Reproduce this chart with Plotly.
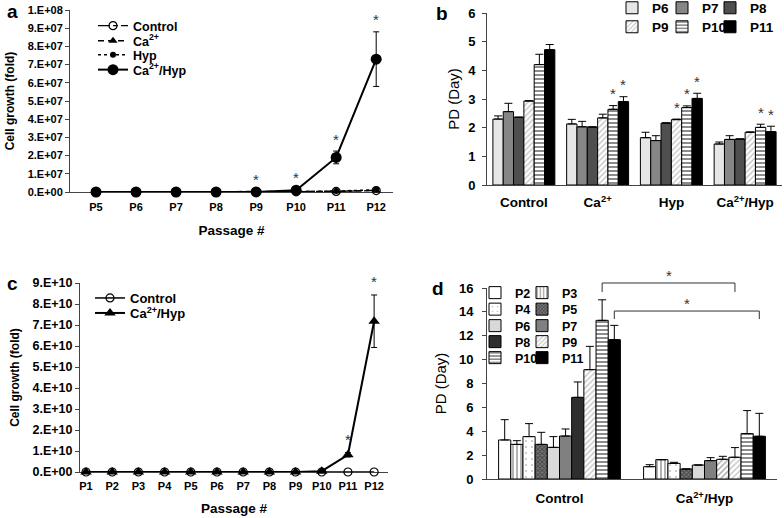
import plotly.graph_objects as go

W, H = 784, 518
FONT = "Liberation Sans, Arial, sans-serif"
AX = "#444444"

# ---------------- Panel a data ----------------
a_passages = ["P5", "P6", "P7", "P8", "P9", "P10", "P11", "P12"]
a_control = [0, 0, 0, 0, 0, 1.0e5, 3.0e5, 8.0e5]
a_ca = [0, 0, 0, 0, 0, 1.0e5, 3.5e5, 9.0e5]
a_hyp = [0, 0, 0, 0, 0, 1.5e5, 5.0e5, 1.2e6]
a_cahyp = [0, 0, 0, 0, 2.0e4, 1.0e6, 1.9e7, 7.3e7]
a_cahyp_err = [0, 0, 0, 0, 0, 5.0e5, 3.5e6, 1.5e7]
a_sig = ["P9", "P10", "P11", "P12"]
a_ytickvals = [0, 1e7, 2e7, 3e7, 4e7, 5e7, 6e7, 7e7, 8e7, 9e7, 1e8]
a_yticktext = ["0.E+00", "1.E+07", "2.E+07", "3.E+07", "4.E+07", "5.E+07",
               "6.E+07", "7.E+07", "8.E+07", "9.E+07", "1.E+08"]

# ---------------- Panel b data ----------------
b_groups = ["Control", "Ca<sup>2+</sup>", "Hyp", "Ca<sup>2+</sup>/Hyp"]
b_passages = ["P6", "P7", "P8", "P9", "P10", "P11"]
b_P6 = [2.30, 2.13, 1.65, 1.43]
b_P7 = [2.56, 2.03, 1.55, 1.59]
b_P8 = [2.36, 2.02, 2.16, 1.60]
b_P9 = [2.93, 2.34, 2.28, 1.84]
b_P10 = [4.20, 2.64, 2.70, 2.01]
b_P11 = [4.72, 2.91, 3.02, 1.86]
b_P6_err = [0.11, 0.16, 0.19, 0.07]
b_P7_err = [0.29, 0.19, 0.17, 0.13]
b_P8_err = [0.01, 0.01, 0.01, 0.01]
b_P9_err = [0.01, 0.13, 0.02, 0.01]
b_P10_err = [0.36, 0.13, 0.06, 0.11]
b_P11_err = [0.18, 0.17, 0.18, 0.19]
b_sig_P9 = [0, 0, 1, 0]
b_sig_P10 = [0, 1, 1, 1]
b_sig_P11 = [0, 1, 1, 1]

# ---------------- Panel c data ----------------
c_passages = ["P1", "P2", "P3", "P4", "P5", "P6", "P7", "P8", "P9", "P10", "P11", "P12"]
c_control = [0, 0, 0, 0, 0, 0, 0, 0, 0, 0, 0, 0]
c_cahyp = [0, 0, 0, 0, 0, 0, 0, 0, 1.0e7, 4.0e8, 8.2e9, 7.18e10]
c_cahyp_err = [0, 0, 0, 0, 0, 0, 0, 0, 0, 1.0e8, 1.0e9, 1.25e10]
c_sig = ["P11", "P12"]
c_ytickvals = [0, 1e10, 2e10, 3e10, 4e10, 5e10, 6e10, 7e10, 8e10, 9e10]
c_yticktext = ["0.E+00", "1.E+10", "2.E+10", "3.E+10", "4.E+10",
               "5.E+10", "6.E+10", "7.E+10", "8.E+10", "9.E+10"]

# ---------------- Panel d data ----------------
d_groups = ["Control", "Ca<sup>2+</sup>/Hyp"]
d_passages = ["P2", "P3", "P4", "P5", "P6", "P7", "P8", "P9", "P10", "P11"]
d_P2 = [3.27, 1.03]
d_P3 = [2.90, 1.62]
d_P4 = [3.55, 1.31]
d_P5 = [2.90, 0.84]
d_P6 = [2.65, 1.17]
d_P7 = [3.60, 1.54]
d_P8 = [6.84, 1.65]
d_P9 = [9.16, 1.82]
d_P10 = [13.29, 3.80]
d_P11 = [11.67, 3.58]
d_P2_err = [1.70, 0.17]
d_P3_err = [0.31, 0.00]
d_P4_err = [1.09, 0.09]
d_P5_err = [1.01, 0.00]
d_P6_err = [0.90, 0.00]
d_P7_err = [0.59, 0.25]
d_P8_err = [1.29, 0.25]
d_P9_err = [1.95, 0.81]
d_P10_err = [1.72, 1.93]
d_P11_err = [1.20, 1.92]
# significance brackets: (left group, left passage, right group, right passage)
d_brackets = [(0, "P10", 1, "P9"), (0, "P11", 1, "P11")]

b_vals = [b_P6, b_P7, b_P8, b_P9, b_P10, b_P11]
b_errs = [b_P6_err, b_P7_err, b_P8_err, b_P9_err, b_P10_err, b_P11_err]
b_sigs = {"P9": b_sig_P9, "P10": b_sig_P10, "P11": b_sig_P11}
d_vals = [d_P2, d_P3, d_P4, d_P5, d_P6, d_P7, d_P8, d_P9, d_P10, d_P11]
d_errs = [d_P2_err, d_P3_err, d_P4_err, d_P5_err, d_P6_err, d_P7_err,
          d_P8_err, d_P9_err, d_P10_err, d_P11_err]

# ---------------- styles ----------------
BARGAP = 0.16
b_styles = [
    dict(color="#e6e6e6"),
    dict(color="#868686"),
    dict(color="#4f4f4f"),
    dict(color="white", pattern=dict(shape="/", fgcolor="#8a8a8a", bgcolor="white", size=4, solidity=0.35)),
    dict(color="white", pattern=dict(shape="-", fgcolor="black", bgcolor="white", size=4, solidity=0.45)),
    dict(color="black"),
]
d_styles = [
    dict(color="white"),
    dict(color="white", pattern=dict(shape="|", fgcolor="black", bgcolor="white", size=4, solidity=0.3)),
    dict(color="white", pattern=dict(shape=".", fgcolor="#777", bgcolor="white", size=6, solidity=0.08)),
    dict(color="#555", pattern=dict(shape="x", fgcolor="#111", bgcolor="#777", size=3, solidity=0.5)),
    dict(color="#d9d9d9"),
    dict(color="#808080"),
    dict(color=["#2e2e2e", "white"], pattern=dict(shape=["", "/"], fgcolor="#6a6a6a", bgcolor="white", size=4, solidity=0.35)),
    dict(color="white", pattern=dict(shape="/", fgcolor="#8a8a8a", bgcolor="white", size=4, solidity=0.35)),
    dict(color="white", pattern=dict(shape="-", fgcolor="black", bgcolor="white", size=4, solidity=0.45)),
    dict(color="black"),
]

legends = {}
_leg_count = [0]


def new_legend(text_x_px, y_px, size):
    _leg_count[0] += 1
    key = "legend" if _leg_count[0] == 1 else "legend%d" % _leg_count[0]
    legends[key] = dict(
        x=(text_x_px - 40) / W, xanchor="left", y=1 - y_px / H, yanchor="middle",
        bgcolor="rgba(0,0,0,0)", borderwidth=0, orientation="v",
        font=dict(family=FONT, size=size, color="black", weight="bold"),
        itemclick=False, itemdoubleclick=False, visible=True,
    )
    return key


fig = go.Figure()

# ---------------- Panel a traces ----------------
a_series = [
    ("Control", a_control, None, dict(symbol="circle-open", size=8, color="black", line=dict(width=1.2)),
     dict(color="black", width=1.3, dash="12px,3px,5px,3px"), 26),
    ("Ca<sup>2+</sup>", a_ca, None, dict(symbol="triangle-up", size=8, color="black"),
     dict(color="black", width=1.5, dash="6px,4px"), 41),
    ("Hyp", a_hyp, None, dict(symbol="circle", size=6, color="black"),
     dict(color="black", width=1.5, dash="dot"), 55),
    ("Ca<sup>2+</sup>/Hyp", a_cahyp, a_cahyp_err, dict(symbol="circle", size=11, color="black"),
     dict(color="black", width=2), 70),
]
for name, ys, err, mk, ln, ly in a_series:
    fig.add_trace(go.Scatter(
        x=a_passages, y=ys, name=name, mode="lines+markers", marker=mk, line=ln,
        error_y=dict(type="data", array=err, color="black", thickness=1, width=3) if err else None,
        cliponaxis=False, xaxis="x", yaxis="y", showlegend=True,
        legend=new_legend(133, ly, 12.5)))

# ---------------- Panel b traces ----------------
for k, p in enumerate(b_passages):
    st = b_styles[k]
    fig.add_trace(go.Bar(
        x=b_groups, y=b_vals[k], name=p, xaxis="x2", yaxis="y2", showlegend=True,
        marker=dict(line=dict(color="black", width=1), **st),
        error_y=dict(type="data", array=b_errs[k], arrayminus=[0] * len(b_groups),
                     symmetric=False, color="black", thickness=1, width=4),
        legend=new_legend([652, 702, 750][k % 3], [8, 27][k // 3], 13.5)))

# ---------------- Panel c traces ----------------
fig.add_trace(go.Scatter(
    x=c_passages, y=c_control, name="Control", mode="lines+markers",
    marker=dict(symbol="circle-open", size=8, color="black", line=dict(width=1.2)),
    line=dict(color="black", width=1.5), cliponaxis=False, xaxis="x3", yaxis="y3",
    showlegend=True, legend=new_legend(130, 298, 13)))
fig.add_trace(go.Scatter(
    x=c_passages, y=c_cahyp, name="Ca<sup>2+</sup>/Hyp", mode="lines+markers",
    marker=dict(symbol="triangle-up", size=10, color="black"),
    line=dict(color="black", width=2),
    error_y=dict(type="data", array=c_cahyp_err, color="black", thickness=1, width=3),
    cliponaxis=False, xaxis="x3", yaxis="y3", showlegend=True,
    legend=new_legend(130, 313, 13)))

# ---------------- Panel d traces ----------------
d_leg_x = [515, 562]
d_leg_y = [293, 309.5, 326, 342, 358]
for k, p in enumerate(d_passages):
    st = d_styles[k]
    fig.add_trace(go.Bar(
        x=d_groups, y=d_vals[k], name=p, xaxis="x4", yaxis="y4", showlegend=True,
        marker=dict(line=dict(color="black", width=1), **st),
        error_y=dict(type="data", array=d_errs[k], arrayminus=[0] * len(d_groups),
                     symmetric=False, color="black", thickness=1, width=4),
        legend=new_legend(d_leg_x[k % 2], d_leg_y[k // 2], 12.5)))

# ---------------- annotations ----------------
ann = []
shapes = []
STAR = dict(family=FONT, size=15, color="#333")


def star(xref, yref, x, y, shift):
    return dict(xref=xref, yref=yref, x=x, y=y, text="*", showarrow=False,
                yshift=shift, xanchor="center", yanchor="middle", font=STAR)


for p in a_sig:
    i = a_passages.index(p)
    ann.append(star("x", "y", i, a_cahyp[i] + a_cahyp_err[i], 12))
for p in c_sig:
    i = c_passages.index(p)
    ann.append(star("x3", "y3", i, c_cahyp[i] + c_cahyp_err[i], 13))


def bar_offset(k, n):
    w = (1 - BARGAP) / n
    return -(1 - BARGAP) / 2 + (k + 0.5) * w


for p, sig in b_sigs.items():
    k = b_passages.index(p)
    for g, s in enumerate(sig):
        if s:
            ann.append(star("x2", "y2", g + bar_offset(k, 6),
                            b_vals[k][g] + b_errs[k][g], 12))

# d brackets (y in data units converted to the axis domain so they can sit above the top)
D_MAX = 16
bracket_levels = [(16.42, 15.66, 17.05), (14.07, 13.40, 14.72)]
for (g1, p1, g2, p2), (ytop, yleg, ystar) in zip(d_brackets, bracket_levels):
    x1 = (g1 + bar_offset(d_passages.index(p1), 10) + 0.5) / 2
    x2 = (g2 + bar_offset(d_passages.index(p2), 10) + 0.5) / 2
    for xa, ya, xb, yb in [(x1, yleg, x1, ytop), (x1, ytop, x2, ytop), (x2, ytop, x2, yleg)]:
        shapes.append(dict(type="line", xref="x4 domain", yref="y4 domain",
                           x0=xa, y0=ya / D_MAX, x1=xb, y1=yb / D_MAX,
                           line=dict(color="#333", width=1)))
    ann.append(dict(xref="x4 domain", yref="y4 domain", x=(x1 + x2) / 2, y=ystar / D_MAX,
                    text="*", showarrow=False, xanchor="center", yanchor="middle", font=STAR))

for letter, px, py in [("a", 12, 12), ("b", 442, 14), ("c", 12, 283), ("d", 438, 288)]:
    ann.append(dict(xref="paper", yref="paper", x=px / W, y=1 - py / H, text=letter,
                    showarrow=False, xanchor="center", yanchor="middle",
                    font=dict(family=FONT, size=19, color="black", weight="bold")))

# ---------------- axes ----------------
BOLD11 = dict(family=FONT, size=11, color="black", weight="bold")


def xax(dom, rng, tsize, tls, title=None, standoff=10):
    d = dict(domain=[dom[0] / W, dom[1] / W], range=rng, type="category",
             showline=True, linecolor=AX, linewidth=1, ticks="", showgrid=False,
             zeroline=False, tickfont=dict(family=FONT, size=tsize, color="black", weight="bold"),
             fixedrange=True, ticklabelstandoff=tls)
    if title:
        d["title"] = dict(text=title, standoff=standoff,
                          font=dict(family=FONT, size=13.5, color="black", weight="bold"))
    return d


def yax(dom, rng, tfont, title, tfont_title, standoff, tickvals=None, ticktext=None, dtick=None, tls=0):
    d = dict(domain=[1 - dom[1] / H, 1 - dom[0] / H], range=rng, showline=True, linecolor=AX,
             linewidth=1, ticks="outside", ticklen=4, tickcolor=AX, showgrid=False,
             zeroline=False, tickfont=tfont, fixedrange=True, ticklabelstandoff=tls,
             title=dict(text=title, standoff=standoff, font=tfont_title))
    if tickvals is not None:
        d.update(tickmode="array", tickvals=tickvals, ticktext=ticktext)
    if dtick is not None:
        d.update(dtick=dtick, tick0=0)
    return d


layout = dict(
    width=W, height=H, margin=dict(l=0, r=0, t=0, b=0, autoexpand=False),
    paper_bgcolor="white", plot_bgcolor="white", showlegend=True,
    barmode="group", bargap=BARGAP, bargroupgap=0,
    font=dict(family=FONT, color="black"),
    xaxis=dict(xax((70, 393), [-0.65, 7.42], 11, 5, "Passage #", 13), anchor="y", layer="below traces"),
    yaxis=dict(yax((10, 192), [0, 1e8], BOLD11, "Cell growth (fold)",
                   dict(family=FONT, size=12, color="black", weight="bold"), 10,
                   a_ytickvals, a_yticktext), anchor="x"),
    xaxis2=dict(xax((487, 782), [-0.5, 3.5], 13.5, 5), anchor="y2"),
    yaxis2=dict(yax((13, 185), [0, 6], dict(family=FONT, size=13, color="black", weight="bold"),
                    "PD (Day)", dict(family=FONT, size=15, color="black"), 4, dtick=1, tls=4),
                anchor="x2"),
    xaxis3=dict(xax((80, 388), [-0.23, 11.53], 11, 4, "Passage #", 12), anchor="y3", layer="below traces"),
    yaxis3=dict(yax((283, 472), [0, 9e10], dict(family=FONT, size=12.5, color="black", weight="bold"),
                    "Cell growth (fold)", dict(family=FONT, size=12, color="black", weight="bold"), 10,
                    c_ytickvals, c_yticktext), anchor="x3"),
    xaxis4=dict(xax((487, 777), [-0.5, 1.5], 13.5, 7), anchor="y4"),
    yaxis4=dict(yax((288, 479), [0, 16], dict(family=FONT, size=13, color="black", weight="bold"),
                    "PD (Day)", dict(family=FONT, size=15, color="black"), 8, dtick=2, tls=6),
                anchor="x4"),
    annotations=ann, shapes=shapes,
)
layout.update(legends)
fig.update_layout(**layout)
fig.write_html("out.html",
               config={"displayModeBar": False, "staticPlot": False},
               post_script="document.body.style.margin='0';document.body.style.overflow='hidden';")
